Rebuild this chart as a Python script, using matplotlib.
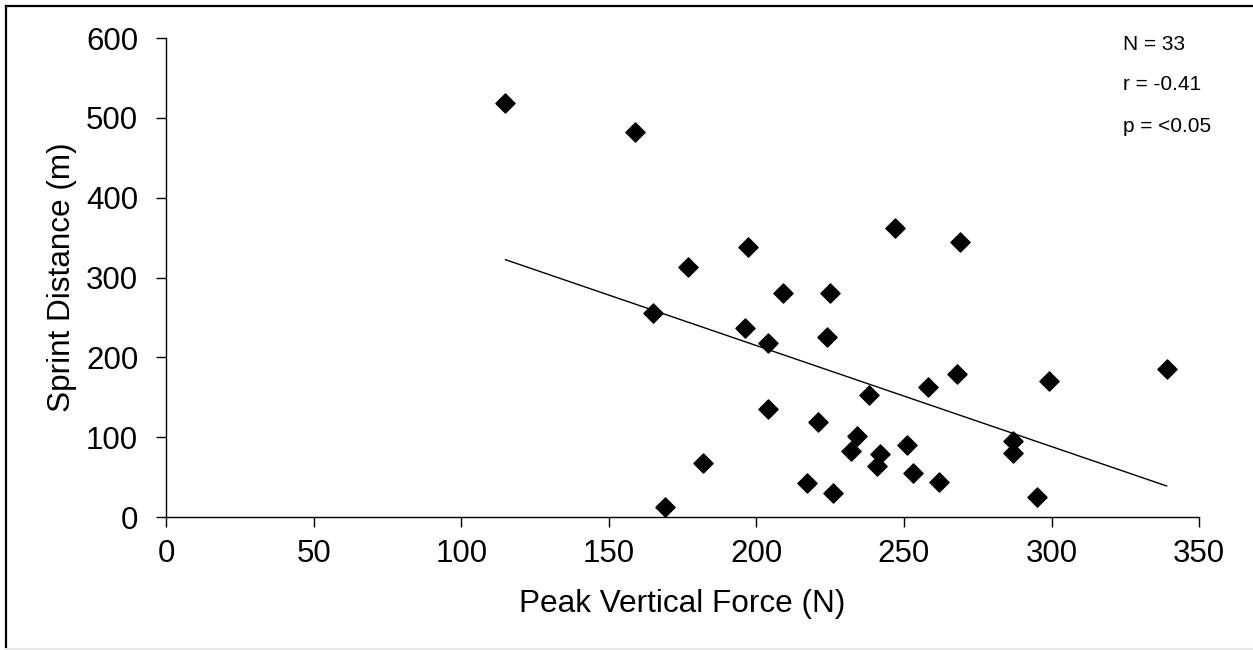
import numpy as np
import matplotlib.pyplot as plt
from matplotlib.lines import Line2D

plt.rcParams['font.family'] = ['Liberation Sans', 'DejaVu Sans']

# Peak vertical force (N) vs sprint distance (m), one value per player
force = [115, 159, 197, 177, 209, 225, 247, 269, 165, 196, 204, 224, 268, 258, 299, 238, 204,
         221, 234, 232, 242, 241, 251, 253, 262, 287, 287, 295, 182, 169, 217, 226, 339]
distance = [519, 482, 338, 313, 281, 281, 362, 345, 256, 237, 218, 226, 179, 163, 170, 153, 135,
            119, 101, 83, 79, 64, 90, 55, 44, 95, 80, 25, 68, 13, 43, 30, 185]
stats_text = ['N = 33', 'r = -0.41', 'p = <0.05']

x = np.array(force, dtype=float)
y = np.array(distance, dtype=float)

fig = plt.figure(figsize=(12.53, 6.5), dpi=100)
ax = fig.add_axes([0.1325, 0.2046, 0.8245, 0.7369])

ax.scatter(x, y, marker='D', s=95, color='black', zorder=3)

# linear trendline over the range of the data
slope, intercept = np.polyfit(x, y, 1)
xs = np.array([x.min(), x.max()])
ax.plot(xs, slope * xs + intercept, color='black', lw=1)

ax.set_xlim(0, 350)
ax.set_ylim(0, 600)
ax.set_xticks(np.arange(0, 351, 50))
ax.set_yticks(np.arange(0, 601, 100))
ax.spines['top'].set_visible(False)
ax.spines['right'].set_visible(False)
ax.spines['left'].set_linewidth(1)
ax.spines['bottom'].set_linewidth(1)
ax.tick_params(axis='x', direction='out', length=7, width=1, labelsize=22.5, pad=9)
ax.tick_params(axis='y', direction='out', length=7, width=1, labelsize=22.5, pad=13)

ax.set_xlabel('Peak Vertical Force (N)', fontsize=22.7, va='center')
ax.set_ylabel('Sprint Distance (m)', fontsize=22.7, va='center')
ax.xaxis.set_label_coords(0.5, -87 / 479)
ax.yaxis.set_label_coords(-104 / 1033, 0.5)

for i, t in enumerate(stats_text):
    fig.text(1123 / 1253, 1 - (44 + 41 * i) / 650, t, fontsize=15, va='center', ha='left')

# frame around the chart area
fig.add_artist(Line2D([6 / 1253, 6 / 1253], [1 - 648 / 650, 1 - 6 / 650], color='black', lw=1.6,
                      transform=fig.transFigure))
fig.add_artist(Line2D([6 / 1253, 1.0], [1 - 6 / 650, 1 - 6 / 650], color='black', lw=1.6,
                      transform=fig.transFigure))
fig.add_artist(Line2D([6 / 1253, 1.0], [1 - 648.5 / 650, 1 - 648.5 / 650], color='#e6e6e6', lw=1.5,
                      transform=fig.transFigure))

fig.savefig('out.png', dpi=100)
